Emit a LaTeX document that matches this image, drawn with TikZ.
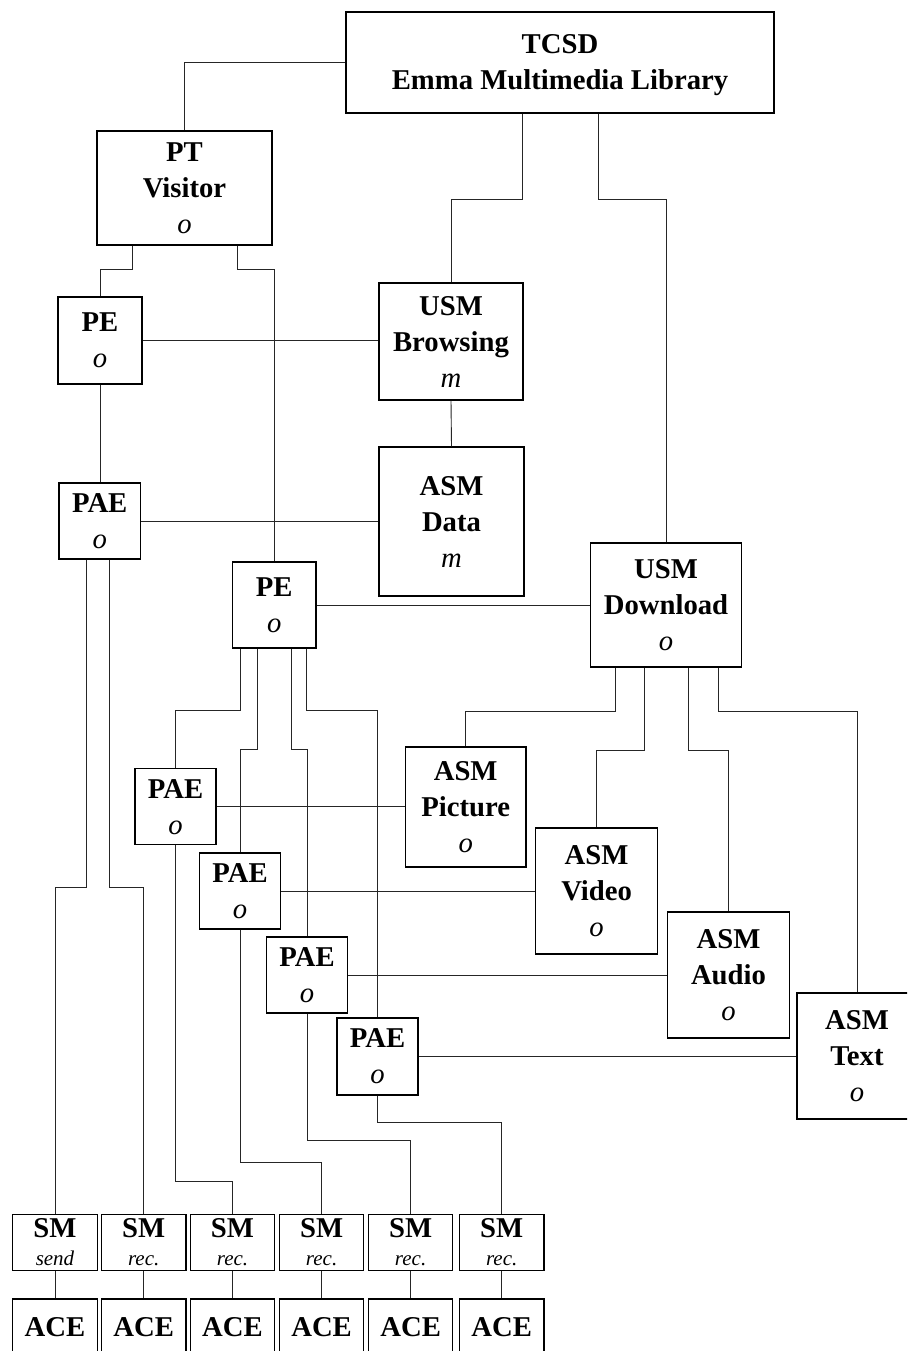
\documentclass[tikz,border=0pt]{standalone}
\usepackage{fontspec}
\setmainfont{Liberation Serif}
\newcommand{\subl}[1]{{\mdseries\itshape #1}}
\begin{document}
\begin{tikzpicture}[x=1pt,y=-1pt,
  box/.style={draw, line width=1.1pt, fill=white, inner sep=0pt, align=center,
    font=\fontsize{28.7}{36}\selectfont\bfseries, text depth=0pt},
  smbox/.style={box, minimum width=84.5pt, minimum height=56pt,
    font=\fontsize{28.7}{28}\selectfont\bfseries},
  con/.style={line width=0.9pt, draw=black!85}]
\useasboundingbox (0,0) rectangle (907,1351);
\fill[white] (0,0) rectangle (907,1351);
\clip (0,0) rectangle (907,1351);

\node[box,minimum width=428pt,minimum height=101pt] (tcsd) at (560,62.5) {TCSD\\Emma Multimedia Library};
\node[box,minimum width=175pt,minimum height=114pt] (pt) at (184.5,188) {PT\\Visitor\\\subl{o}};
\node[box,minimum width=84pt,minimum height=87pt] (pe1) at (100,340.5) {PE\\\subl{o}};
\node[box,minimum width=144pt,minimum height=117pt] (usmb) at (451,341.5) {USM\\Browsing\\\subl{m}};
\node[box,minimum width=145pt,minimum height=149pt] (asmd) at (451.5,521.5) {ASM\\Data\\\subl{m}};
\node[box,minimum width=81.5pt,minimum height=76pt] (pae1) at (99.75,521) {PAE\\\subl{o}};
\node[box,minimum width=83.5pt,minimum height=86pt] (pe2) at (274.25,605) {PE\\\subl{o}};
\node[box,minimum width=151pt,minimum height=124pt] (usmd) at (666,605) {USM\\Download\\\subl{o}};
\node[box,minimum width=81pt,minimum height=76pt] (pae2) at (175.5,806.8) {PAE\\\subl{o}};
\node[box,minimum width=120.6pt,minimum height=120pt] (asmp) at (465.7,807) {ASM\\Picture\\\subl{o}};
\node[box,minimum width=81pt,minimum height=76pt] (pae3) at (240,891) {PAE\\\subl{o}};
\node[box,minimum width=122pt,minimum height=126pt] (asmv) at (596.6,891) {ASM\\Video\\\subl{o}};
\node[box,minimum width=81pt,minimum height=76pt] (pae4) at (307,975) {PAE\\\subl{o}};
\node[box,minimum width=122pt,minimum height=126pt] (asma) at (728.5,975) {ASM\\Audio\\\subl{o}};
\node[box,minimum width=81pt,minimum height=77pt] (pae5) at (377.5,1056.5) {PAE\\\subl{o}};
\node[box,minimum width=120pt,minimum height=126pt] (asmt) at (857,1056) {ASM\\Text\\\subl{o}};

\foreach \i/\x/\t in {1/55/send,2/143.7/rec.,3/232.5/rec.,4/321.6/rec.,5/410.6/rec.,6/501.7/rec.} {
  \node[smbox] (sm\i) at (\x,1242.3) {SM\\{\mdseries\itshape\fontsize{21}{28}\selectfont \t}};
  \node[box, minimum width=84.5pt, minimum height=56pt] (ace\i) at (\x,1327) {ACE};
  \draw[con] (sm\i) -- (ace\i);
}

\draw[con] (tcsd.west) -| (pt.north);
\draw[con] ([xshift=-38pt]tcsd.south) -- ++(0,86) -| (usmb.north);
\draw[con] ([xshift=38pt]tcsd.south) -- ++(0,86) -| (usmd.north);
\draw[con] ([xshift=-52.5pt]pt.south) -- ++(0,24) -| (pe1.north);
\draw[con] ([xshift=52.5pt]pt.south) -- ++(0,24) -| (pe2.north);
\draw[con] (pe1.east) -- (pe1.east -| usmb.west);
\draw[con] (usmb.south) -- (asmd.north);
\draw[con] (pe1.south) -- (pe1.south |- pae1.north);
\draw[con] (pae1.east) -- (pae1.east -| asmd.west);
\draw[con] (pe2.east) -- (pe2.east -| usmd.west);
\draw[con] ([xshift=-13pt]pae1.south) -- ++(0,327.7) -| (sm1.north);
\draw[con] ([xshift=10pt]pae1.south) -- ++(0,327.7) -| (sm2.north);
\draw[con] ([xshift=-33.5pt]pe2.south) -- ++(0,62) -| (pae2.north);
\draw[con] ([xshift=-17pt]pe2.south) -- ++(0,101) -| (pae3.north);
\draw[con] ([xshift=17pt]pe2.south) -- ++(0,101) -| (pae4.north);
\draw[con] ([xshift=32.5pt]pe2.south) -- ++(0,62) -| (pae5.north);
\draw[con] ([xshift=-51pt]usmd.south) -- ++(0,44) -| (asmp.north);
\draw[con] ([xshift=-22pt]usmd.south) -- ++(0,83) -| (asmv.north);
\draw[con] ([xshift=22pt]usmd.south) -- ++(0,83) -| (asma.north);
\draw[con] ([xshift=52pt]usmd.south) -- ++(0,44) -| (asmt.north);
\draw[con] (pae2.east) -- (pae2.east -| asmp.west);
\draw[con] (pae3.east) -- (pae3.east -| asmv.west);
\draw[con] (pae4.east) -- (pae4.east -| asma.west);
\draw[con] (pae5.east) -- (pae5.east -| asmt.west);
\draw[con] (pae2.south) -- ++(0,335.7) -| (sm3.north);
\draw[con] (pae3.south) -- ++(0,233) -| (sm4.north);
\draw[con] (pae4.south) -- ++(0,127) -| (sm5.north);
\draw[con] (pae5.south) -- ++(0,26.7) -| (sm6.north);
\end{tikzpicture}
\end{document}
